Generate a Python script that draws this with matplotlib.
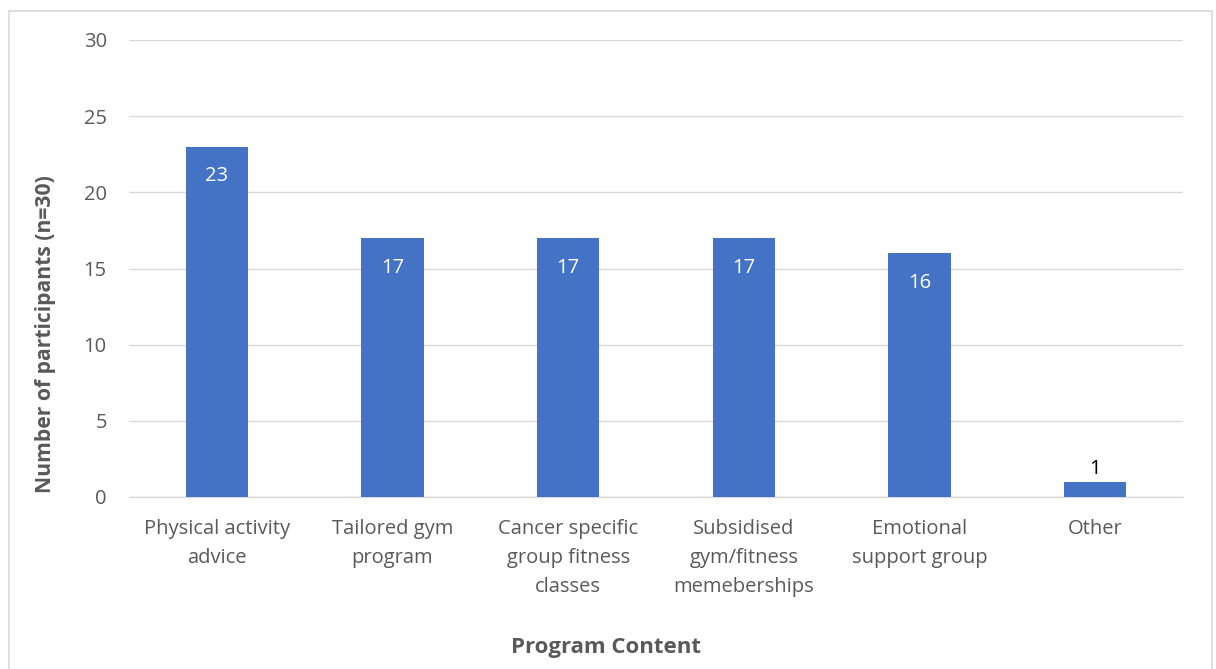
import matplotlib.pyplot as plt
from matplotlib.patches import Rectangle

categories = ["Physical activity\nadvice", "Tailored gym\nprogram", "Cancer specific\ngroup fitness\nclasses",
              "Subsidised\ngym/fitness\nmemeberships", "Emotional\nsupport group", "Other"]
counts = [23, 17, 17, 17, 16, 1]
yticks = [0, 5, 10, 15, 20, 25, 30]

plt.rcParams["font.family"] = ["Open Sans", "DejaVu Sans"]

bar_color = "#4472C4"
text_grey = "#595959"
grid_grey = "#D9D9D9"

fig = plt.figure(figsize=(12.16, 6.69), dpi=100)
ax = fig.add_axes([129 / 1216, 1 - 497 / 669, (1183 - 129) / 1216, (497 - 40) / 669])

x = range(len(categories))
bars = ax.bar(x, counts, width=0.355, color=bar_color, zorder=3)

ax.set_xlim(-0.5, len(categories) - 0.5)
ax.set_ylim(0, 30)
ax.set_yticks(yticks)
ax.set_xticks(list(x))
ax.set_xticklabels(categories, fontsize=14.5, color=text_grey, linespacing=1.63)
ax.tick_params(axis="y", labelsize=14.5, labelcolor=text_grey, length=0, pad=16)
ax.tick_params(axis="x", length=0, pad=15.5)

ax.grid(axis="y", color=grid_grey, linewidth=1, zorder=0)
for side in ["top", "right", "left"]:
    ax.spines[side].set_visible(False)
ax.spines["bottom"].set_color(grid_grey)
ax.spines["bottom"].set_linewidth(1)
ax.spines["bottom"].set_zorder(2)

# value labels: white inside tall bars, black above the short one
for rect, v in zip(bars, counts):
    cx = rect.get_x() + rect.get_width() / 2
    if v >= 5:
        ax.annotate(str(v), (cx, v), xytext=(0, -21.5), textcoords="offset points",
                    ha="center", va="center", color="white", fontsize=14.5, zorder=4)
    else:
        ax.annotate(str(v), (cx, v), xytext=(0, 9), textcoords="offset points",
                    ha="center", va="center", color="black", fontsize=14.5, zorder=4)

ax.set_ylabel("Number of participants (n=30)", fontsize=15.2, fontweight="bold", color=text_grey)
ax.yaxis.set_label_coords((46 - 129) / (1183 - 129), (497 - 334) / (497 - 40))
ax.yaxis.label.set_verticalalignment("center")
fig.text(606 / 1216, 1 - 647 / 669, "Program Content", ha="center", va="center",
         fontsize=16, fontweight="bold", color=text_grey)

# chart frame
fig.patches.append(Rectangle((9 / 1216, -0.05), (1212 - 9) / 1216, 1.05 - 11 / 669,
                             transform=fig.transFigure, fill=False, edgecolor="#D9D9D9", linewidth=1.2))

fig.savefig("out.png", dpi=100)
